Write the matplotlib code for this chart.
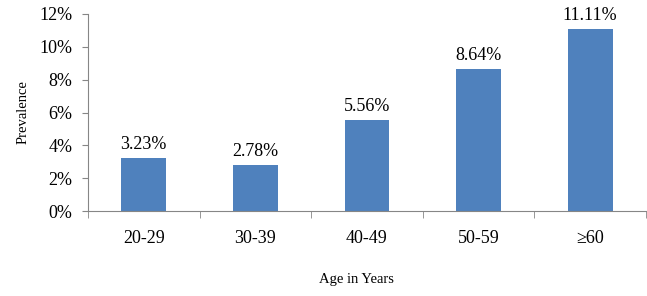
import numpy as np
import matplotlib.pyplot as plt
from matplotlib.ticker import FuncFormatter, FixedLocator

# Prevalence by age group
age_groups = ["20-29", "30-39", "40-49", "50-59", "\u226560"]
prevalence = [3.23, 2.78, 5.56, 8.64, 11.11]

plt.rcParams['font.family'] = ['Liberation Serif', 'DejaVu Serif']

fig = plt.figure(figsize=(6.47, 2.96), dpi=100)
ax = fig.add_axes([88 / 647, 85 / 296, 558 / 647, 197 / 296])

x = np.arange(len(age_groups))
bars = ax.bar(x, prevalence, width=0.4, color='#4F81BD', zorder=2)

# value labels on top of bars
for xi, v in zip(x, prevalence):
    ax.text(xi, v + 0.3, f"{v:.2f}%", ha='center', va='bottom', fontsize=13)

ax.set_xlim(-0.5, len(age_groups) - 0.5)
ax.set_ylim(0, 12)
ax.set_yticks(np.arange(0, 13, 2))
ax.yaxis.set_major_formatter(FuncFormatter(lambda v, p: f"{v:.0f}%"))

# category labels centred, tick marks between categories
ax.set_xticks(x)
ax.set_xticklabels(age_groups, fontsize=13)
ax.tick_params(axis='x', which='major', length=0, pad=14)
ax.xaxis.set_minor_locator(FixedLocator(np.arange(-0.5, len(age_groups), 1.0)))
ax.tick_params(axis='x', which='minor', length=5, color='#868686', direction='out')
ax.tick_params(axis='y', labelsize=13, length=4, color='#868686', pad=7)

for side in ['top', 'right']:
    ax.spines[side].set_visible(False)
for side in ['left', 'bottom']:
    ax.spines[side].set_color('#868686')
    ax.spines[side].set_linewidth(0.8)

ax.set_ylabel("Prevalence", fontsize=10.5, labelpad=7)
fig.text(356 / 647, 1 - 280 / 296, "Age in Years", ha='center', va='center', fontsize=10.5)

fig.savefig("out.png", dpi=100)
